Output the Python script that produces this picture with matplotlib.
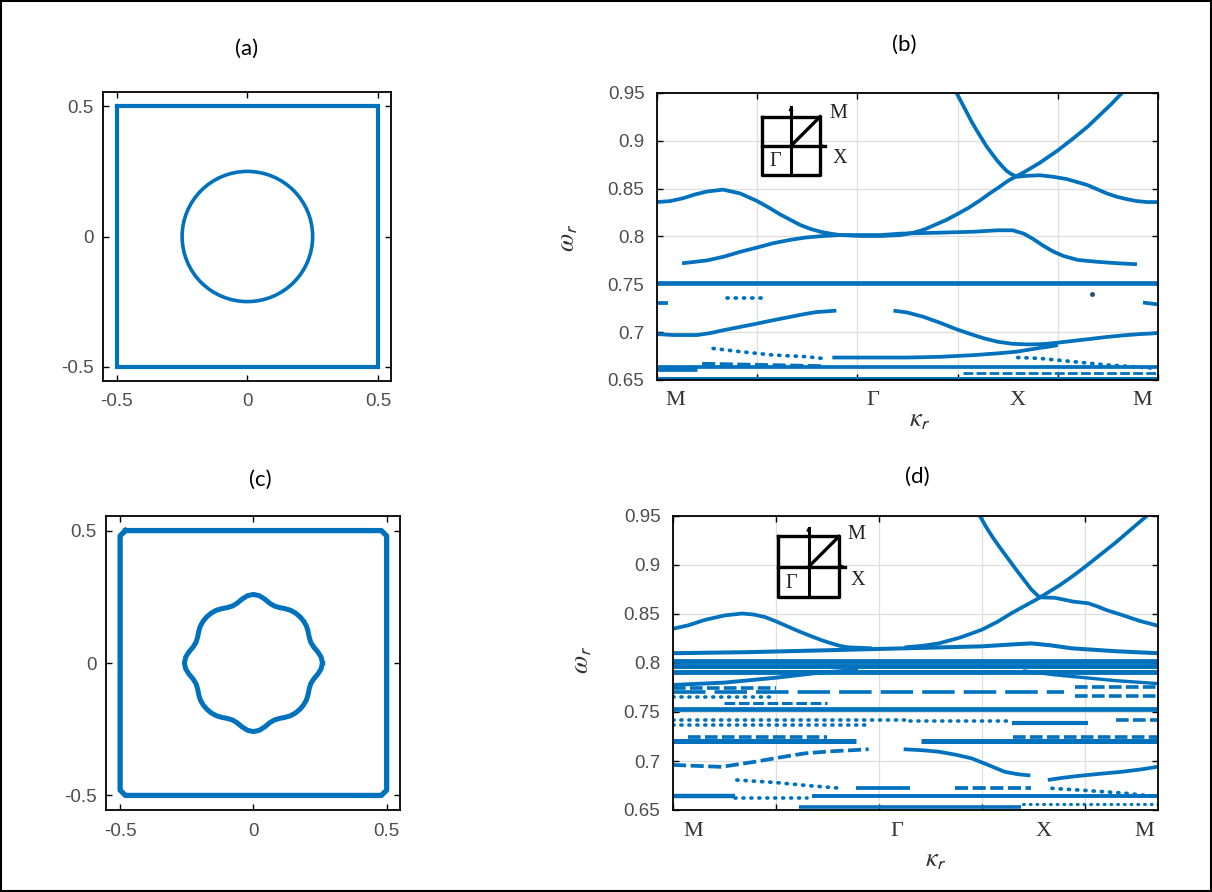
import numpy as np
import matplotlib
matplotlib.use('Agg')
import matplotlib.pyplot as plt
from matplotlib.patches import Circle, Rectangle
from matplotlib.transforms import blended_transform_factory

plt.rcParams['font.family'] = ['Liberation Sans', 'DejaVu Sans']
plt.rcParams['mathtext.fontset'] = 'stix'

BLUE = '#0072BD'
TICK_GRAY = '#4d4d4d'
W, H = 1212, 892

# ---------------- data ----------------
# (a) unit cell and circular inclusion
a_cell_x = [-0.5, 0.5, 0.5, -0.5, -0.5]
a_cell_y = [0.5, 0.5, -0.5, -0.5, 0.5]
a_circle_r = 0.25
# (c) chamfered cell and lobed inclusion (radius vs angle in first quadrant)
c_cell_x = [-0.48, 0.48, 0.5, 0.5, 0.48, -0.48, -0.5, -0.5, -0.48]
c_cell_y = [0.5, 0.5, 0.48, -0.48, -0.5, -0.5, -0.48, 0.48, 0.5]
c_theta_deg = [0, 5, 10, 15, 20, 25, 30, 35, 40, 45, 50, 55, 60, 65, 70, 75, 80, 85, 90]
c_radius = [0.259, 0.255, 0.245, 0.234, 0.229, 0.231, 0.237, 0.243, 0.246, 0.247,
            0.246, 0.243, 0.237, 0.231, 0.229, 0.234, 0.245, 0.255, 0.259]
cell_ticks = [-0.5, 0, 0.5]
cell_ticklabels = ['-0.5', '0', '0.5']

# band diagrams: omega ticks and symmetry-point labels
w_ticks = [0.65, 0.70, 0.75, 0.80, 0.85, 0.90, 0.95]
w_ticklabels = ['0.65', '0.7', '0.75', '0.8', '0.85', '0.9', '0.95']
sym_labels = ['M', 'Γ', 'X', 'M']
b_sym_pos = [0.18, 2.156, 3.60, 4.84]
d_sym_pos = [0.194, 2.175, 3.60, 4.58]

# (b) bands  (k in path units 0..5)
b_k_up1 = [0.0, 0.13, 0.26, 0.38, 0.50, 0.66, 0.83, 1.00, 1.12, 1.23, 1.33, 1.43, 1.53, 1.63, 1.73, 1.83, 2.03, 2.23, 2.43, 2.56, 2.66, 2.76, 2.88, 2.99, 3.11, 3.22, 3.32, 3.42, 3.50, 3.56, 3.66, 3.82, 4.00, 4.16, 4.30, 4.42, 4.53, 4.64]
b_w_up1 = [0.836, 0.837, 0.840, 0.844, 0.847, 0.849, 0.845, 0.837, 0.830, 0.823, 0.8175, 0.812, 0.808, 0.805, 0.803, 0.8015, 0.8005, 0.8005, 0.8015, 0.804, 0.807, 0.8115, 0.817, 0.823, 0.830, 0.8375, 0.845, 0.852, 0.858, 0.8615, 0.867, 0.877, 0.890, 0.903, 0.915, 0.927, 0.938, 0.950]
b_k_up2 = [2.99, 3.04, 3.09, 3.14, 3.19, 3.24, 3.29, 3.34, 3.39, 3.44, 3.49, 3.54, 3.59, 3.70, 3.82, 3.95, 4.09, 4.19, 4.29, 4.39, 4.49, 4.59, 4.69, 4.79, 4.89, 5.00]
b_w_up2 = [0.950, 0.940, 0.930, 0.920, 0.911, 0.9025, 0.894, 0.887, 0.880, 0.874, 0.8685, 0.865, 0.8625, 0.8635, 0.864, 0.8625, 0.8600, 0.857, 0.854, 0.8495, 0.845, 0.8415, 0.839, 0.837, 0.836, 0.836]
b_k_mid = [0.25, 0.50, 0.67, 0.83, 1.00, 1.16, 1.33, 1.49, 1.66, 1.83, 2.03, 2.23, 2.43, 2.82, 3.16, 3.40, 3.55, 3.66, 3.76, 3.86, 3.96, 4.06, 4.20, 4.40, 4.60, 4.79]
b_w_mid = [0.772, 0.775, 0.779, 0.784, 0.7885, 0.793, 0.7965, 0.799, 0.8005, 0.8015, 0.8015, 0.8015, 0.803, 0.804, 0.805, 0.8065, 0.8065, 0.803, 0.797, 0.790, 0.784, 0.7795, 0.7755, 0.7735, 0.772, 0.771]
b_k_flat = [0.0, 5.0]
b_w_flat = [0.751, 0.751]
b_k_dots1 = [0.695, 1.08]
b_w_dots1 = [0.7354, 0.7354]
b_k_stub_l = [0.0, 0.11]
b_w_stub_l = [0.730, 0.730]
b_k_stub_r = [4.85, 5.0]
b_w_stub_r = [0.731, 0.729]
b_k_dot = [4.345]
b_w_dot = [0.7396]
b_k_low1a = [0.0, 0.16, 0.40, 0.53, 0.66, 0.83, 1.00, 1.16, 1.33, 1.46, 1.59, 1.79]
b_w_low1a = [0.698, 0.697, 0.697, 0.699, 0.702, 0.7055, 0.709, 0.7125, 0.716, 0.7187, 0.721, 0.7225]
b_k_low1b = [2.36, 2.50, 2.66, 2.82, 2.99, 3.13, 3.26, 3.40, 3.55, 3.70, 3.85, 4.00, 4.16, 4.33, 4.49, 4.66, 4.82, 5.00]
b_w_low1b = [0.7225, 0.7205, 0.716, 0.710, 0.703, 0.698, 0.6936, 0.690, 0.6878, 0.6872, 0.6875, 0.689, 0.691, 0.693, 0.695, 0.6967, 0.698, 0.699]
b_k_low2a = [0.56, 0.83, 1.16, 1.49, 1.64]
b_w_low2a = [0.683, 0.6796, 0.6761, 0.6744, 0.6727]
b_k_low2b = [1.75, 2.50, 2.82, 3.16, 3.42, 3.59, 3.70, 3.82, 3.92, 4.00]
b_w_low2b = [0.6735, 0.6735, 0.6742, 0.676, 0.678, 0.6796, 0.6815, 0.6835, 0.685, 0.6865]
b_k_low3 = [3.60, 3.82, 4.17, 4.49, 4.66, 4.97]
b_w_low3 = [0.6735, 0.6726, 0.669, 0.6657, 0.6646, 0.6622]
b_k_base1 = [0.0, 5.0]
b_w_base1 = [0.6635, 0.6635]
b_k_clut1 = [0.0, 0.40]
b_w_clut1 = [0.661, 0.661]
b_k_clut2 = [0.45, 1.65]
b_w_clut2 = [0.667, 0.6645]
b_k_clut3 = [3.05, 5.0]
b_w_clut3 = [0.657, 0.657]
b_k_base2 = [0.0, 5.0]
b_w_base2 = [0.6525, 0.6525]

# (d) bands (same path units, axis ends at 4.71)
d_k_up1 = [0.0, 0.15, 0.31, 0.50, 0.67, 0.78, 0.89, 1.00, 1.12, 1.23, 1.35, 1.45, 1.54, 1.62, 1.70, 1.93]
d_w_up1 = [0.835, 0.8385, 0.844, 0.8485, 0.8505, 0.8495, 0.847, 0.8425, 0.837, 0.832, 0.827, 0.823, 0.820, 0.8175, 0.816, 0.815]
d_k_up2 = [2.25, 2.42, 2.58, 2.79, 3.00, 3.15, 3.29, 3.42, 3.55, 3.65, 3.75, 3.88, 4.00, 4.15, 4.30, 4.45, 4.60]
d_w_up2 = [0.816, 0.8175, 0.820, 0.826, 0.834, 0.842, 0.851, 0.8585, 0.866, 0.8725, 0.879, 0.8885, 0.898, 0.9105, 0.923, 0.9365, 0.950]
d_k_up3 = [2.98, 3.04, 3.10, 3.17, 3.24, 3.32, 3.40, 3.48, 3.56, 3.71, 3.89, 4.03, 4.12, 4.21, 4.36, 4.53, 4.71]
d_w_up3 = [0.950, 0.939, 0.929, 0.9185, 0.9085, 0.897, 0.886, 0.875, 0.867, 0.8665, 0.8626, 0.861, 0.8578, 0.854, 0.849, 0.843, 0.838]
d_k_band4 = [0.0, 0.70, 1.50, 2.25, 3.00, 3.30, 3.48, 3.67, 3.87, 4.30, 4.71]
d_w_band4 = [0.810, 0.811, 0.813, 0.815, 0.817, 0.819, 0.820, 0.818, 0.815, 0.812, 0.810]
d_k_full = [0.0, 4.71]
d_w_c1 = [0.802, 0.802]
d_w_c2 = [0.7965, 0.7965]
d_w_c3 = [0.791, 0.791]
d_k_rise = [0.0, 0.50, 1.00, 1.41, 1.80]
d_w_rise = [0.7776, 0.780, 0.785, 0.790, 0.793]
d_k_fall = [3.40, 3.70, 4.00, 4.30, 4.71]
d_w_fall = [0.792, 0.788, 0.785, 0.782, 0.779]
d_k_dash1 = [0.0, 3.80]
d_w_dash1 = [0.7707, 0.7707]
d_k_clr = [3.90, 4.71]
d_w_clr1 = [0.775, 0.775]
d_w_clr2 = [0.766, 0.766]
d_k_cll = [0.0, 1.0]
d_w_cll1 = [0.774, 0.774]
d_w_cll2 = [0.765, 0.765]
d_w_flat = [0.7535, 0.7535]
d_k_above = [0.5, 1.5]
d_w_above = [0.759, 0.759]
d_k_dot1 = [0.0, 2.30]
d_w_dot1 = [0.742, 0.742]
d_k_dot2 = [0.0, 1.90]
d_w_dot2 = [0.737, 0.737]
d_k_dot3 = [2.30, 3.25]
d_w_dot3 = [0.741, 0.741]
d_k_dashr = [3.29, 4.03]
d_w_dashr = [0.7384, 0.7384]
d_k_dot4 = [4.30, 4.71]
d_w_dot4 = [0.742, 0.742]
d_k_l1 = [0.0, 1.78]
d_k_l2 = [2.41, 4.71]
d_w_l = [0.7205, 0.7205]
d_k_cl_a = [0.15, 1.50]
d_k_cl_b = [3.30, 4.71]
d_w_cl = [0.7245, 0.7245]
d_k_low1a = [0.0, 0.47, 0.80, 1.04, 1.28, 1.52, 1.77, 1.90]
d_w_low1a = [0.696, 0.694, 0.6993, 0.7037, 0.7078, 0.7098, 0.7112, 0.712]
d_k_low1b = [2.24, 2.42, 2.58, 2.74, 2.90, 3.06, 3.22, 3.35, 3.47]
d_w_low1b = [0.712, 0.711, 0.7095, 0.7065, 0.7027, 0.696, 0.689, 0.6865, 0.6852]
d_k_low1c = [3.64, 3.78, 3.93, 4.15, 4.36, 4.55, 4.71]
d_w_low1c = [0.6806, 0.6828, 0.6847, 0.687, 0.689, 0.6915, 0.6942]
d_k_low2a = [0.62, 1.00, 1.30, 1.64]
d_w_low2a = [0.6806, 0.678, 0.675, 0.6721]
d_k_low2b = [1.78, 2.30]
d_w_low2b = [0.672, 0.672]
d_k_low2c = [2.74, 3.48]
d_w_low2c = [0.6727, 0.6727]
d_k_low3 = [3.68, 4.00, 4.40, 4.71]
d_w_low3 = [0.6721, 0.670, 0.667, 0.6636]
d_k_base1a = [1.35, 4.71]
d_k_base1b = [0.0, 0.60]
d_w_base1 = [0.6645, 0.6645]
d_k_base1c = [0.60, 1.30]
d_w_base1c = [0.6625, 0.6625]
d_k_base2 = [1.22, 3.38]
d_w_base2 = [0.6527, 0.6527]
d_k_base3 = [3.40, 4.71]
d_w_base3 = [0.656, 0.656]

# ---------------- helpers ----------------
def fx(px):
    return px / W

def fy(py):
    return 1 - py / H

fig = plt.figure(figsize=(W / 100, H / 100), dpi=100)
fig.patches.append(Rectangle((0.001, 0.001), 0.998, 0.998, transform=fig.transFigure,
                             fill=False, edgecolor='black', linewidth=1.5))

LW = 2.7


def style_axes(ax):
    for s in ax.spines.values():
        s.set_linewidth(1.3)
        s.set_color('black')
    ax.tick_params(direction='in', length=4, width=1.0, top=True, right=True,
                   labelsize=13.5, labelcolor=TICK_GRAY, colors='black', pad=7)
    for lab in ax.get_xticklabels() + ax.get_yticklabels():
        lab.set_color(TICK_GRAY)


def cell_axes(rect):
    ax = fig.add_axes(rect)
    ax.set_xlim(-0.553, 0.55)
    ax.set_ylim(-0.555, 0.555)
    ax.set_xticks(cell_ticks)
    ax.set_xticklabels(cell_ticklabels)
    ax.set_yticks(cell_ticks)
    ax.set_yticklabels(cell_ticklabels)
    style_axes(ax)
    ax.tick_params(axis='x', pad=9)
    return ax


def band(ax, k, w, kind='solid', lw=LW):
    if kind == 'solid':
        ax.plot(k, w, color=BLUE, lw=lw, solid_capstyle='butt',
                solid_joinstyle='round')
    elif kind == 'dot':
        ax.plot(k, w, color=BLUE, lw=lw, linestyle=(0, (0.3, 1.9)),
                dash_capstyle='round')
    elif kind == 'dash':
        ax.plot(k, w, color=BLUE, lw=lw, linestyle=(0, (3.5, 1.2)),
                dash_capstyle='butt')
    elif kind == 'longdash':
        ax.plot(k, w, color=BLUE, lw=lw, linestyle=(0, (9, 2.5)),
                dash_capstyle='butt')


def band_axes(rect, xmax, sym_pos):
    ax = fig.add_axes(rect)
    ax.set_xlim(0, xmax)
    ax.set_ylim(0.65, 0.95)
    ax.set_xticks([t for t in range(0, 6) if t <= xmax])
    ax.set_xticklabels([])
    ax.set_yticks(w_ticks)
    ax.set_yticklabels(w_ticklabels)
    ax.grid(True, color='#dedede', linewidth=0.9)
    ax.set_axisbelow(True)
    style_axes(ax)
    ax.tick_params(axis='y', pad=9)
    tr = blended_transform_factory(ax.transData, ax.transAxes)
    for p, lab in zip(sym_pos, sym_labels):
        ax.text(p, -0.04, lab, transform=tr, ha='center', va='top',
                family='Liberation Serif', fontsize=16, color='#333333')
    return ax


def inset(cx, cy, half, up, right, mpos, xpos, gpos):
    iax = fig.add_axes([fx(cx - half), fy(cy + half), 2 * half / W, 2 * half / H])
    iax.set_xlim(-1, 1)
    iax.set_ylim(-1, 1)
    iax.axis('off')
    kw = dict(color='black', lw=2.4, clip_on=False, solid_capstyle='projecting')
    iax.plot([-1, 1, 1, -1, -1], [1, 1, -1, -1, 1], **kw)
    iax.plot([0, 0], [-1, up - 0.15], color='black', lw=2.2, clip_on=False)
    iax.plot([-1, right - 0.1], [0, 0], color='black', lw=2.4, clip_on=False)
    iax.plot([0, 1], [0, 1], **kw)
    iax.annotate('', xy=(0, up), xytext=(0, up - 0.3),
                 arrowprops=dict(arrowstyle='-|>', color='black', lw=1.0,
                                 mutation_scale=6), annotation_clip=False)
    iax.annotate('', xy=(right, 0), xytext=(right - 0.3, 0),
                 arrowprops=dict(arrowstyle='-|>', color='black', lw=1.0,
                                 mutation_scale=6), annotation_clip=False)
    f = dict(family='Liberation Serif', fontsize=14.5, color='#222222',
             ha='center', va='center', clip_on=False)
    iax.text(mpos[0], mpos[1], 'M', **f)
    iax.text(xpos[0], xpos[1], 'X', **f)
    iax.text(gpos[0], gpos[1], 'Γ', **f)


# ---------------- panel (a) ----------------
ax_a = cell_axes([fx(103), fy(381), 288 / W, 289 / H])
ax_a.plot(a_cell_x, a_cell_y, color=BLUE, lw=3.0, solid_joinstyle='miter')
ax_a.add_patch(Circle((0, 0), a_circle_r, fill=False, edgecolor=BLUE, lw=2.6))

# ---------------- panel (c) ----------------
ax_c = cell_axes([fx(106), fy(810), 294 / W, 294 / H])
ax_c.plot(c_cell_x, c_cell_y, color=BLUE, lw=3.8, solid_joinstyle='round')
th_q = np.deg2rad(np.array(c_theta_deg, dtype=float))
r_q = np.array(c_radius)
th_full = np.concatenate([th_q, np.pi - th_q[::-1], np.pi + th_q, 2 * np.pi - th_q[::-1]])
r_full = np.concatenate([r_q, r_q[::-1], r_q, r_q[::-1]])
ax_c.plot(r_full * np.cos(th_full), r_full * np.sin(th_full), color=BLUE, lw=3.6,
          solid_joinstyle='round')

# ---------------- panel (b) ----------------
ax_b = band_axes([fx(657), fy(380), 501 / W, 287 / H], 5.0, b_sym_pos)
band(ax_b, b_k_up1, b_w_up1)
band(ax_b, b_k_up2, b_w_up2)
band(ax_b, b_k_mid, b_w_mid)
band(ax_b, b_k_flat, b_w_flat, lw=3.4)
band(ax_b, b_k_dots1, b_w_dots1, 'dot')
band(ax_b, b_k_stub_l, b_w_stub_l)
band(ax_b, b_k_stub_r, b_w_stub_r)
ax_b.plot(b_k_dot, b_w_dot, 'o', color='#1f4f7a', ms=2.5)
band(ax_b, b_k_low1a, b_w_low1a)
band(ax_b, b_k_low1b, b_w_low1b)
band(ax_b, b_k_low2a, b_w_low2a, 'dot')
band(ax_b, b_k_low2b, b_w_low2b)
band(ax_b, b_k_low3, b_w_low3, 'dot')
band(ax_b, b_k_base1, b_w_base1)
band(ax_b, b_k_clut1, b_w_clut1, lw=3.4)
band(ax_b, b_k_clut2, b_w_clut2, 'dash')
band(ax_b, b_k_clut3, b_w_clut3, 'dash', lw=2.0)
band(ax_b, b_k_base2, b_w_base2, lw=2.2)
inset(791, 145.8, 29.2, 1.47, 1.27, (1.61, 1.09), (1.68, -0.42), (-0.55, -0.55))

# ---------------- panel (d) ----------------
ax_d = band_axes([fx(673), fy(810), 485 / W, 294 / H], 4.71, d_sym_pos)
band(ax_d, d_k_up1, d_w_up1)
band(ax_d, d_k_up2, d_w_up2)
band(ax_d, d_k_up3, d_w_up3)
band(ax_d, d_k_band4, d_w_band4, lw=2.9)
band(ax_d, d_k_full, d_w_c1, lw=3.5)
band(ax_d, d_k_full, d_w_c2, lw=3.5)
band(ax_d, d_k_full, d_w_c3, lw=3.5)
band(ax_d, d_k_rise, d_w_rise, lw=2.8)
band(ax_d, d_k_fall, d_w_fall, lw=2.4)
band(ax_d, d_k_dash1, d_w_dash1, 'longdash', lw=2.6)
band(ax_d, d_k_clr, d_w_clr1, 'dash', lw=2.6)
band(ax_d, d_k_clr, d_w_clr2, 'dash', lw=2.6)
band(ax_d, d_k_cll, d_w_cll1, 'dash', lw=2.6)
band(ax_d, d_k_cll, d_w_cll2, 'dot', lw=2.6)
band(ax_d, d_k_full, d_w_flat, lw=3.4)
band(ax_d, d_k_above, d_w_above, 'dash', lw=2.2)
band(ax_d, d_k_dot1, d_w_dot1, 'dot', lw=2.6)
band(ax_d, d_k_dot2, d_w_dot2, 'dot', lw=2.6)
band(ax_d, d_k_dot3, d_w_dot3, 'dot', lw=2.6)
band(ax_d, d_k_dashr, d_w_dashr, lw=3.0)
band(ax_d, d_k_dot4, d_w_dot4, 'dash', lw=2.6)
band(ax_d, d_k_l1, d_w_l, lw=3.6)
band(ax_d, d_k_l2, d_w_l, lw=3.6)
band(ax_d, d_k_cl_a, d_w_cl, 'dash', lw=2.6)
band(ax_d, d_k_cl_b, d_w_cl, 'dash', lw=2.6)
band(ax_d, d_k_low1a, d_w_low1a, 'dash')
band(ax_d, d_k_low1b, d_w_low1b)
band(ax_d, d_k_low1c, d_w_low1c)
band(ax_d, d_k_low2a, d_w_low2a, 'dot')
band(ax_d, d_k_low2b, d_w_low2b)
band(ax_d, d_k_low2c, d_w_low2c, 'dash')
band(ax_d, d_k_low3, d_w_low3, 'dot')
band(ax_d, d_k_base1a, d_w_base1, lw=2.8)
band(ax_d, d_k_base1b, d_w_base1, lw=3.2)
band(ax_d, d_k_base1c, d_w_base1c, 'dot', lw=2.6)
band(ax_d, d_k_base2, d_w_base2, lw=2.6)
band(ax_d, d_k_base3, d_w_base3, 'dot', lw=2.2)
inset(808.7, 566.7, 30.3, 1.43, 1.31, (1.58, 1.05), (1.63, -0.44), (-0.56, -0.54))

# ---------------- labels ----------------
tf = dict(family=['Lato', 'DejaVu Sans'], fontsize=16, ha='center', va='center', color='black')
fig.text(fx(247), fy(49), '(a)', **tf)
fig.text(fx(904), fy(45), '(b)', **tf)
fig.text(fx(260), fy(480), '(c)', **tf)
fig.text(fx(917), fy(477), '(d)', **tf)

lf = dict(fontsize=19, ha='center', va='center', color='#333333')
fig.text(fx(568), fy(238), r'$\omega_{\mathsf{r}}$', rotation=90, **lf)
fig.text(fx(582), fy(660), r'$\omega_{\mathsf{r}}$', rotation=90, **lf)
fig.text(fx(920), fy(420), r'$\kappa_{\mathsf{r}}$', **lf)
fig.text(fx(936), fy(860), r'$\kappa_{\mathsf{r}}$', **lf)

fig.savefig('out.png', dpi=100)
